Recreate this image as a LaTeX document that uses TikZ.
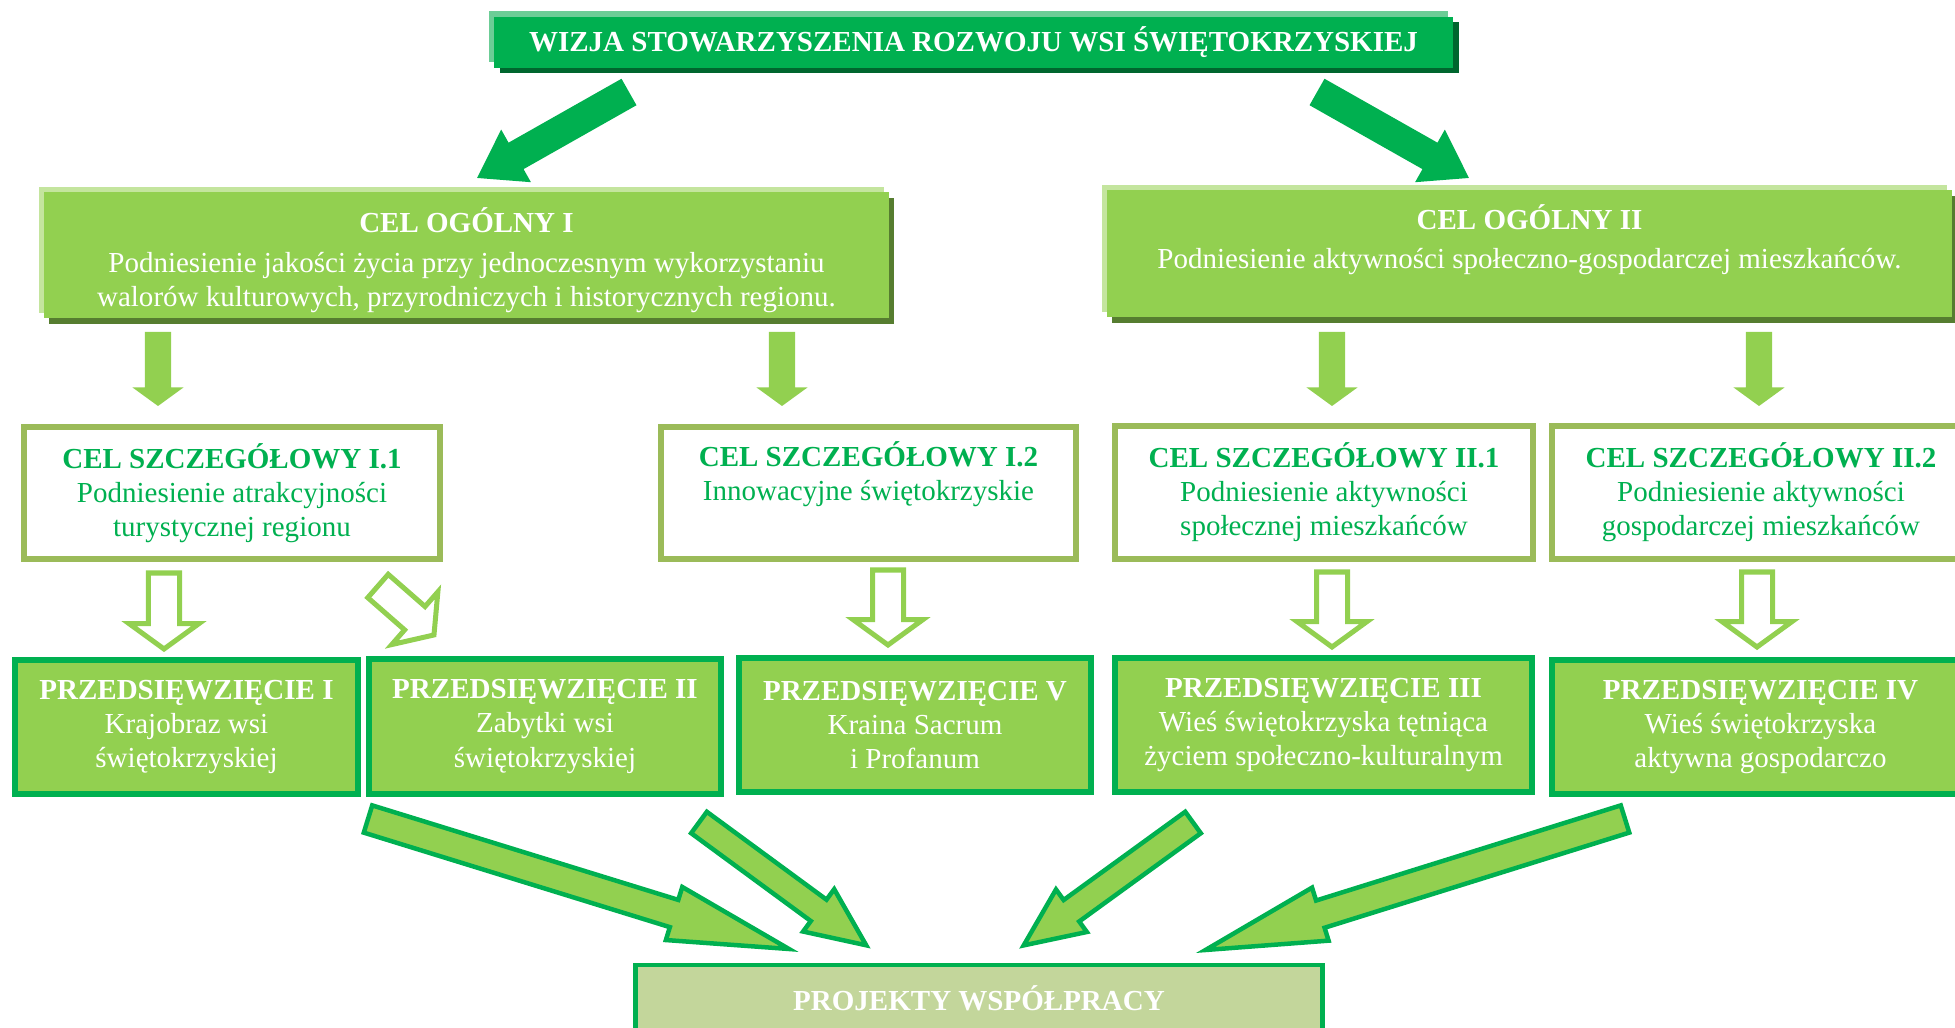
\documentclass[tikz,border=0pt]{standalone}
\usepackage{fontspec}
\setmainfont{Liberation Serif}
\usetikzlibrary{shapes.arrows,shadows,calc}

\definecolor{visiongreen}{RGB}{0,176,80}
\definecolor{visionlight}{RGB}{108,205,150}
\definecolor{visiondark}{RGB}{0,102,46}
\definecolor{goalgreen}{RGB}{146,208,80}
\definecolor{goallight}{RGB}{196,229,158}
\definecolor{goaldark}{RGB}{86,125,48}
\definecolor{specolive}{RGB}{155,187,89}
\definecolor{finalolive}{RGB}{195,214,155}

\newcommand{\chartfont}{\fontsize{8.25}{9.7}\selectfont}
% block arrow from one named coordinate to another
\newcommand{\blockarrow}[3][]{%
  \path let \p1=(#2), \p2=(#3), \n1={veclen(\x2-\x1,\y2-\y1)}, \n2={atan2(\y2-\y1,\x2-\x1)} in
    (#2) node [single arrow, anchor=tail, inner xsep=0pt, outer sep=0pt, minimum height=\n1, rotate=\n2, name=#2-#3, #1] {};}

\tikzset{
  visionbox/.style={fill=visiongreen, text=white, font=\bfseries, minimum width=9.59cm, minimum height=0.51cm, inner sep=0pt,
    general shadow={fill=visiondark, shadow xshift=0.06cm, shadow yshift=-0.05cm},
    general shadow={fill=visionlight, shadow xshift=-0.05cm, shadow yshift=0.06cm}},
  goalbox/.style={fill=goalgreen, text=white, align=center, minimum width=8.45cm, minimum height=1.26cm, inner sep=0pt,
    general shadow={fill=goaldark, shadow xshift=0.05cm, shadow yshift=-0.06cm},
    general shadow={fill=goallight, shadow xshift=-0.05cm, shadow yshift=0.05cm}},
  specbox/.style={draw=specolive, line width=0.06cm, fill=white, text=visiongreen, align=center, minimum height=1.32cm, inner sep=0pt},
  taskbox/.style={draw=visiongreen, line width=0.06cm, fill=goalgreen, text=white, align=center, minimum height=1.34cm, inner sep=0pt},
  finalbox/.style={draw=visiongreen, line width=0.045cm, fill=finalolive, text=white, font=\bfseries, minimum width=6.87cm, minimum height=0.66cm, inner sep=0pt},
  bigarrow/.style={fill=visiongreen, inner ysep=0.145cm, single arrow head extend=0.15cm, single arrow tip angle=68},
  solidarrow/.style={fill=goalgreen, inner ysep=0.125cm, single arrow head extend=0.125cm, single arrow tip angle=108},
  hollowarrow/.style={draw=goalgreen, fill=white, line width=0.05cm, inner ysep=0.13cm, single arrow head extend=0.195cm, single arrow tip angle=108},
  joinarrow/.style={draw=visiongreen, fill=goalgreen, line width=0.045cm, inner ysep=0.12cm, single arrow head extend=0.135cm, single arrow tip angle=26}
}

\begin{document}
\begin{tikzpicture}[x=0.01cm, y=-0.01cm]
\useasboundingbox (0,0) rectangle (1955,1028);
\clip (0,0) rectangle (1955,1028);
{\chartfont

% Drawing box vision
\node [visionbox] (vision) at (973.5,42.5) {WIZJA STOWARZYSZENIA ROZWOJU WSI ŚWIĘTOKRZYSKIEJ};%

% Drawing boxes goal1 and goal2
\node [goalbox] (goal1) at (466.5,255) {\textbf{CEL OGÓLNY I}\rule{0pt}{10pt}\\[1.5pt] Podniesienie jakości życia przy jednoczesnym wykorzystaniu\\ walorów kulturowych, przyrodniczych i historycznych regionu.};%
\node [goalbox] (goal2) at (1529.5,253.5) {\textbf{CEL OGÓLNY II}\\[1.5pt] Podniesienie aktywności społeczno-gospodarczej mieszkańców.\\[-3pt] \strut};%

% Drawing arrows vision goal1, vision goal2
\coordinate (vg1) at (629,92);
\coordinate (g1t) at (477,178);
\coordinate (vg2) at (1317,92);
\coordinate (g2t) at (1469,178);
\blockarrow[bigarrow]{vg1}{g1t}
\blockarrow[bigarrow]{vg2}{g2t}

% Drawing boxes spec11, spec12, spec21, spec22
\node [specbox, minimum width=4.16cm] (spec11) at (232,493) {\textbf{CEL SZCZEGÓŁOWY I.1}\\ Podniesienie atrakcyjności\\ turystycznej regionu};%
\node [specbox, minimum width=4.15cm] (spec12) at (868.5,493) {\textbf{CEL SZCZEGÓŁOWY I.2}\\ Innowacyjne świętokrzyskie\\ \strut};%
\node [specbox, minimum width=4.18cm] (spec21) at (1324,492.5) {\textbf{CEL SZCZEGÓŁOWY II.1}\\ Podniesienie aktywności\\ społecznej mieszkańców};%
\node [specbox, minimum width=4.18cm] (spec22) at (1761,492.5) {\textbf{CEL SZCZEGÓŁOWY II.2}\\ Podniesienie aktywności\\ gospodarczej mieszkańców};%

% Drawing arrows goal spec
\coordinate (gs11) at (158,332);
\coordinate (s11t) at (158,406);
\coordinate (gs12) at (782,332);
\coordinate (s12t) at (782,406);
\coordinate (gs21) at (1332,332);
\coordinate (s21t) at (1332,406);
\coordinate (gs22) at (1759,332);
\coordinate (s22t) at (1759,406);
\blockarrow[solidarrow]{gs11}{s11t}
\blockarrow[solidarrow]{gs12}{s12t}
\blockarrow[solidarrow]{gs21}{s21t}
\blockarrow[solidarrow]{gs22}{s22t}

% Drawing boxes task1 ... task5
\node [taskbox, minimum width=3.43cm] (task1) at (186.5,727) {\textbf{PRZEDSIĘWZIĘCIE I}\\ Krajobraz wsi\\ świętokrzyskiej};%
\node [taskbox, minimum width=3.52cm] (task2) at (545,726.5) {\textbf{PRZEDSIĘWZIĘCIE II}\\ Zabytki wsi\\ świętokrzyskiej};%
\node [taskbox, minimum width=3.52cm] (task5) at (915,725) {\textbf{PRZEDSIĘWZIĘCIE V}\\ Kraina Sacrum\\ i Profanum};%
\node [taskbox, minimum width=4.17cm] (task3) at (1323.5,725) {\textbf{PRZEDSIĘWZIĘCIE III}\\ Wieś świętokrzyska tętniąca\\ życiem społeczno-kulturalnym};%
\node [taskbox, minimum width=4.17cm] (task4) at (1760.5,727) {\textbf{PRZEDSIĘWZIĘCIE IV}\\ Wieś świętokrzyska\\ aktywna gospodarczo};%

% Drawing arrows spec task
\coordinate (st1) at (164,573);
\coordinate (t1t) at (164,649);
\coordinate (st2) at (378,586);
\coordinate (t2t) at (434,635);
\coordinate (st5) at (888,570);
\coordinate (t5t) at (888,645);
\coordinate (st3) at (1332,572);
\coordinate (t3t) at (1332,647);
\coordinate (st4) at (1757,572);
\coordinate (t4t) at (1757,647);
\blockarrow[hollowarrow]{st1}{t1t}
\blockarrow[hollowarrow]{st2}{t2t}
\blockarrow[hollowarrow]{st5}{t5t}
\blockarrow[hollowarrow]{st3}{t3t}
\blockarrow[hollowarrow]{st4}{t4t}

% Drawing box final
\node [finalbox] (final) at (979,998) {PROJEKTY WSPÓŁPRACY};%

% Drawing arrows task final
\coordinate (tf1) at (368,819);
\coordinate (f1t) at (789,949);
\coordinate (tf2) at (699,822.5);
\coordinate (f2t) at (866.5,945.5);
\coordinate (tf3) at (1193,822.5);
\coordinate (f3t) at (1023.5,945.5);
\coordinate (tf4) at (1625,819);
\coordinate (f4t) at (1205.5,950);
\blockarrow[joinarrow]{tf1}{f1t}
\blockarrow[joinarrow, inner ysep=0.11cm, single arrow head extend=0.13cm, single arrow tip angle=48]{tf2}{f2t}
\blockarrow[joinarrow, inner ysep=0.11cm, single arrow head extend=0.13cm, single arrow tip angle=48]{tf3}{f3t}
\blockarrow[joinarrow]{tf4}{f4t}
}
\end{tikzpicture}
\end{document}
